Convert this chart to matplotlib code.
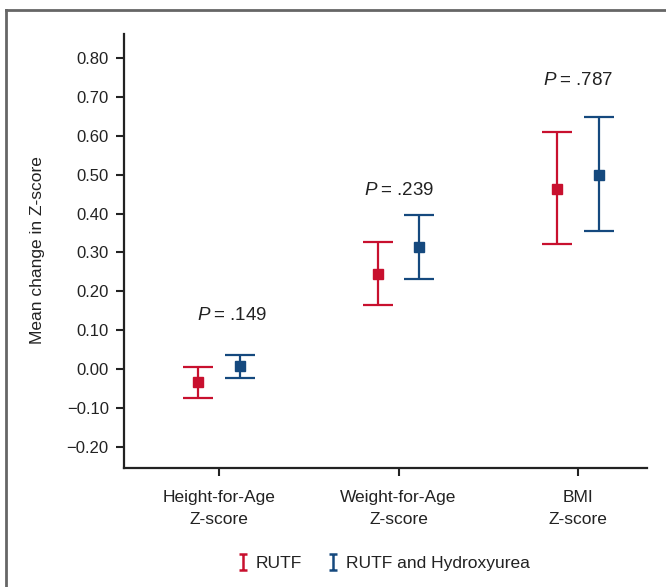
import matplotlib
matplotlib.use("Agg")
import matplotlib.pyplot as plt
from matplotlib.lines import Line2D
from matplotlib.path import Path
import numpy as np

categories = ["Height-for-Age\nZ-score", "Weight-for-Age\nZ-score", "BMI\nZ-score"]
rutf_mean = [-0.033, 0.244, 0.464]
rutf_lower = [-0.074, 0.164, 0.323]
rutf_upper = [0.005, 0.326, 0.610]
hu_mean = [0.008, 0.315, 0.500]
hu_lower = [-0.023, 0.233, 0.354]
hu_upper = [0.036, 0.397, 0.649]
p_labels = [".149", ".239", ".787"]
series_names = ["RUTF", "RUTF and Hydroxyurea"]
yticks = [-0.20, -0.10, 0.00, 0.10, 0.20, 0.30, 0.40, 0.50, 0.60, 0.70, 0.80]

RED = "#C8102E"
BLUE = "#15497E"

plt.rcParams["font.family"] = ["Liberation Sans", "DejaVu Sans"]
plt.rcParams["mathtext.fontset"] = "custom"
plt.rcParams["mathtext.it"] = "Liberation Sans:italic"
plt.rcParams["mathtext.rm"] = "Liberation Sans"

fig = plt.figure(figsize=(6.66, 5.87), dpi=100)
ax = fig.add_axes([124/666, 1-468/587, (647-124)/666, (468-34)/587])

x = np.arange(len(categories))
off = 0.117

def draw(xs, mean, lo, hi, color):
    mean = np.array(mean); lo = np.array(lo); hi = np.array(hi)
    ax.errorbar(xs, mean, yerr=[mean-lo, hi-mean], fmt="s", color=color,
                ecolor=color, elinewidth=1.6, capsize=11, capthick=1.6,
                markersize=7.5, zorder=3)

draw(x-off, rutf_mean, rutf_lower, rutf_upper, RED)
draw(x+off, hu_mean, hu_lower, hu_upper, BLUE)

# P-value labels (placed above each group)
p_y = [0.138, 0.459, 0.741]
p_dx = [0.07, 0.0, 0.0]
for i, p in enumerate(p_labels):
    ax.text(x[i] + p_dx[i], p_y[i], r"$P$" + "\u2009= " + p,
            ha="center", va="center", fontsize=13.5, color="#222222")

ax.set_xlim(-0.53, 2.385)
ax.set_ylim(-0.254, 0.8615)
ax.set_xticks(x)
ax.set_xticklabels(categories, fontsize=12.5, linespacing=1.6, color="#222222")
ax.set_yticks(yticks)
ax.set_yticklabels([f"{v:.2f}".replace("-", "\u2212") for v in yticks], fontsize=12, color="#222222")
ax.tick_params(axis="both", direction="out", length=6, width=1.5, color="#222222")
ax.tick_params(axis="x", pad=10)
ax.tick_params(axis="y", pad=5)
for s in ["top", "right"]:
    ax.spines[s].set_visible(False)
for s in ["left", "bottom"]:
    ax.spines[s].set_linewidth(1.6)
    ax.spines[s].set_color("#222222")

fig.text(38/666, 1-250/587, "Mean change in Z-score", rotation=90, ha="center", va="center",
         fontsize=12.5, family=["Liberation Sans Narrow", "Liberation Sans", "DejaVu Sans"],
         color="#222222")

# I-shaped legend marker
ipath = Path([(-0.5, 1), (0.5, 1), (0, 1), (0, -1), (-0.5, -1), (0.5, -1)],
             [Path.MOVETO, Path.LINETO, Path.MOVETO, Path.LINETO, Path.MOVETO, Path.LINETO])
handles = [Line2D([], [], linestyle="none", marker=ipath, markersize=11, markeredgewidth=1.8,
                  markeredgecolor=c, markerfacecolor="none") for c in (RED, BLUE)]
fig.legend(handles, series_names, loc="center", bbox_to_anchor=(384/666, 1-563/587), ncol=2,
           frameon=False, fontsize=12.5, handlelength=0.6, handletextpad=0.45, columnspacing=1.5,
           labelcolor="#222222")

# outer border (top and left)
fig.add_artist(Line2D([6/666, 6/666], [0, 1-10/587], transform=fig.transFigure, color="#666666", lw=2))
fig.add_artist(Line2D([6/666, 1], [1-10/587, 1-10/587], transform=fig.transFigure, color="#666666", lw=2))

fig.savefig("out.png", dpi=100)
